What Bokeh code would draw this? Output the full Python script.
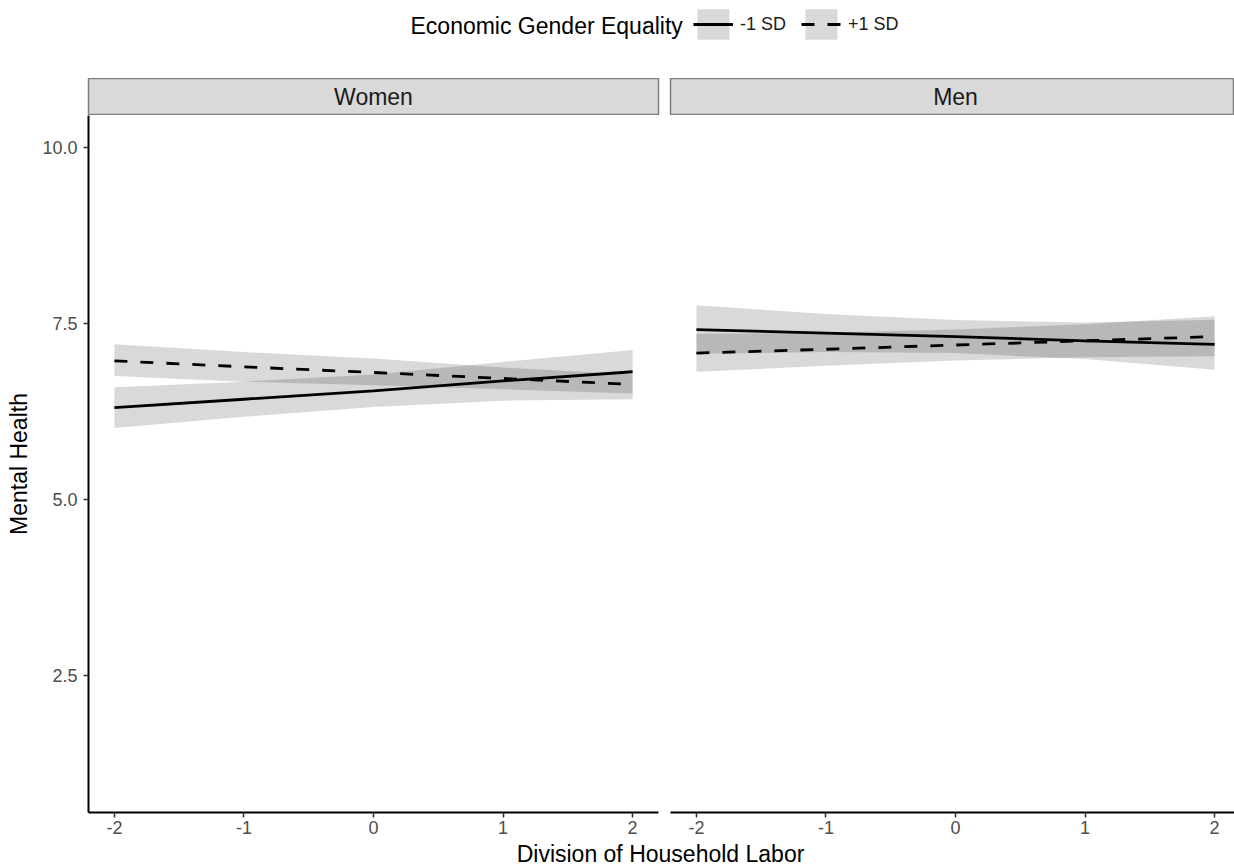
from bokeh.plotting import figure
from bokeh.models import (Range1d, FixedTicker, ColumnDataSource, Legend,
                          LegendItem, Label)
from bokeh.layouts import column, row
from bokeh.embed import file_html
from bokeh.resources import INLINE

FONT = "Liberation Sans"

# ---------------- data ----------------
panels = ["Women", "Men"]
legend_title = "Economic Gender Equality"
series_labels = ["-1 SD", "+1 SD"]
x_axis_title = "Division of Household Labor"
y_axis_title = "Mental Health"

x_vals = [-2, -1, 0, 1, 2]

# Women, -1 SD (solid)
women_low_fit = [6.30, 6.42, 6.54, 6.68, 6.81]
women_low_lower = [6.01, 6.17, 6.31, 6.40, 6.42]
women_low_upper = [6.59, 6.67, 6.77, 6.95, 7.12]
# Women, +1 SD (dashed)
women_high_fit = [6.965, 6.88, 6.80, 6.715, 6.63]
women_high_lower = [6.75, 6.67, 6.62, 6.56, 6.50]
women_high_upper = [7.20, 7.09, 7.00, 6.87, 6.77]
# Men, -1 SD (solid)
men_low_fit = [7.41, 7.36, 7.31, 7.25, 7.20]
men_low_lower = [7.065, 7.09, 7.075, 6.99, 6.84]
men_low_upper = [7.755, 7.63, 7.545, 7.51, 7.55]
# Men, +1 SD (dashed)
men_high_fit = [7.075, 7.13, 7.19, 7.25, 7.31]
men_high_lower = [6.81, 6.895, 6.97, 7.015, 7.03]
men_high_upper = [7.35, 7.365, 7.41, 7.485, 7.60]

x_ticks = [-2, -1, 0, 1, 2]
x_tick_labels = ["-2", "-1", "0", "1", "2"]
y_ticks = [2.5, 5.0, 7.5, 10.0]
y_tick_labels = ["2.5", "5.0", "7.5", "10.0"]

# ---------------- layout constants ----------------
X_LO, X_HI = -2.2, 2.2
Y_LO, Y_HI = 0.55, 10.45
LEFT_FRAME_W = 570
PX_PER_X = LEFT_FRAME_W / (X_HI - X_LO)
L_BORDER_L, L_BORDER_R = 88, 6
R_BORDER_L = 6
LEFT_W = L_BORDER_L + LEFT_FRAME_W + L_BORDER_R   # 664
RIGHT_W = 570
RIGHT_FRAME_W = RIGHT_W - R_BORDER_L
TOTAL_W = LEFT_W + RIGHT_W                         # 1234

TOP_H = 78
STRIP_H = 37
PANEL_FRAME_H = 697
PANEL_BOTTOM = 28
PANEL_H = PANEL_FRAME_H + PANEL_BOTTOM
XTITLE_H = 26

BAND_ALPHA = 0.15
LINE_W = 2.8
DASH = "13 13"


def blank_fig(width, height, x_range=None, y_range=None):
    p = figure(width=width, height=height, output_backend="svg",
               toolbar_location=None, tools="", title=None,
               x_axis_location=None, y_axis_location=None,
               x_range=x_range if x_range is not None else Range1d(0, 1),
               y_range=y_range if y_range is not None else Range1d(0, 1))
    p.min_border_left = p.min_border_right = 0
    p.min_border_top = p.min_border_bottom = 0
    p.outline_line_color = None
    p.grid.visible = False
    p.background_fill_color = "white"
    p.border_fill_color = "white"
    return p


panel_data = {
    "Women": (women_low_fit, women_low_lower, women_low_upper,
              women_high_fit, women_high_lower, women_high_upper),
    "Men": (men_low_fit, men_low_lower, men_low_upper,
            men_high_fit, men_high_lower, men_high_upper),
}
sources = {}
for name in panels:
    lo_fit, lo_lo, lo_hi, hi_fit, hi_lo, hi_hi = panel_data[name]
    sources[name] = ColumnDataSource(data=dict(
        x=x_vals, lo_fit=lo_fit, lo_lo=lo_lo, lo_hi=lo_hi,
        hi_fit=hi_fit, hi_lo=hi_lo, hi_hi=hi_hi))

# ---------------- top legend ----------------
# legend proxies draw the first panel's data in a range where nothing is visible
top = blank_fig(TOTAL_W, TOP_H, y_range=Range1d(100, 101))
src0 = sources[panels[0]]
band_a = top.varea(x="x", y1="lo_lo", y2="lo_hi", source=src0,
                   fill_color="black", fill_alpha=BAND_ALPHA)
line_a = top.line(x="x", y="lo_fit", source=src0, line_color="black",
                  line_width=LINE_W)
band_b = top.varea(x="x", y1="hi_lo", y2="hi_hi", source=src0,
                   fill_color="black", fill_alpha=BAND_ALPHA)
line_b = top.line(x="x", y="hi_fit", source=src0, line_color="black",
                  line_width=LINE_W, line_dash=DASH)
top.add_layout(Label(x=410, y=TOP_H - 25, x_units="screen", y_units="screen",
                     text=legend_title, text_font=FONT, text_font_size="23px",
                     text_color="black", text_align="left",
                     text_baseline="middle"))
legend = Legend(items=[LegendItem(label=series_labels[0], renderers=[band_a, line_a]),
                       LegendItem(label=series_labels[1], renderers=[band_b, line_b])],
                orientation="horizontal", location=(693, TOP_H - 43),
                glyph_width=40, glyph_height=38, label_standoff=7, spacing=15,
                padding=0, margin=0, border_line_color=None,
                background_fill_alpha=0, label_text_font=FONT,
                label_text_font_size="18px", label_text_color="#1A1A1A",
                label_height=38)
top.add_layout(legend, "center")

# ---------------- panels ----------------
strips, plots = [], []
for i, name in enumerate(panels):
    if i == 0:
        xr = Range1d(X_LO, X_HI)
        width, bl, br = LEFT_W, L_BORDER_L, L_BORDER_R
    else:
        xr = Range1d(X_LO, X_LO + RIGHT_FRAME_W / PX_PER_X)
        width, bl, br = RIGHT_W, R_BORDER_L, 0

    # strip
    s = blank_fig(width, STRIP_H, x_range=xr)
    s.min_border_left, s.min_border_right = bl, br
    s.background_fill_color = "#D9D9D9"
    s.outline_line_color = "#7F7F7F"
    s.outline_line_width = 1.5
    s.add_layout(Label(x=0, y=0.5, text=name, text_font=FONT,
                       text_font_size="23px", text_color="#1A1A1A",
                       text_align="center", text_baseline="middle"))
    strips.append(s)

    # panel
    p = figure(width=width, height=PANEL_H, output_backend="svg",
               toolbar_location=None, tools="", title=None,
               x_range=xr, y_range=Range1d(Y_LO, Y_HI),
               y_axis_location="left" if i == 0 else None)
    p.min_border_left, p.min_border_right = bl, br
    p.min_border_top, p.min_border_bottom = 0, PANEL_BOTTOM
    p.outline_line_color = None
    p.grid.visible = False
    p.background_fill_color = "white"
    p.border_fill_color = "white"

    src = sources[name]
    p.varea(x="x", y1="lo_lo", y2="lo_hi", source=src,
            fill_color="black", fill_alpha=BAND_ALPHA)
    p.varea(x="x", y1="hi_lo", y2="hi_hi", source=src,
            fill_color="black", fill_alpha=BAND_ALPHA)
    p.line(x="x", y="lo_fit", source=src, line_color="black",
           line_width=LINE_W)
    p.line(x="x", y="hi_fit", source=src, line_color="black",
           line_width=LINE_W, line_dash=DASH)

    axes = [p.xaxis[0]] + ([p.yaxis[0]] if i == 0 else [])
    for ax in axes:
        ax.axis_line_color = "black"
        ax.axis_line_width = 2
        ax.major_tick_line_color = "#333333"
        ax.major_tick_line_width = 1.5
        ax.major_tick_out = 5
        ax.major_tick_in = 0
        ax.minor_tick_line_color = None
        ax.major_label_text_font = FONT
        ax.major_label_text_font_size = "18px"
        ax.major_label_text_color = "#4D4D4D"
    p.xaxis.major_label_standoff = 3
    p.xaxis.ticker = FixedTicker(ticks=x_ticks)
    p.xaxis.major_label_overrides = {t: l for t, l in zip(x_ticks, x_tick_labels)}
    if i == 0:
        p.yaxis.major_label_standoff = 6
        p.yaxis.ticker = FixedTicker(ticks=y_ticks)
        p.yaxis.major_label_overrides = {t: l for t, l in zip(y_ticks, y_tick_labels)}
        p.yaxis.axis_label = y_axis_title
        p.yaxis.axis_label_text_font = FONT
        p.yaxis.axis_label_text_font_size = "23px"
        p.yaxis.axis_label_text_font_style = "normal"
        p.yaxis.axis_label_text_color = "black"
        p.yaxis.axis_label_standoff = 7
    plots.append(p)

# ---------------- x-axis title ----------------
bottom = blank_fig(TOTAL_W, XTITLE_H)
bottom.add_layout(Label(x=660, y=XTITLE_H / 2, x_units="screen", y_units="screen",
                        text=x_axis_title, text_font=FONT, text_font_size="23px",
                        text_color="black", text_align="center",
                        text_baseline="middle"))

layout = column(top, row(*strips), row(*plots), bottom, spacing=0)
open("out.html", "w").write(file_html(layout, INLINE))
